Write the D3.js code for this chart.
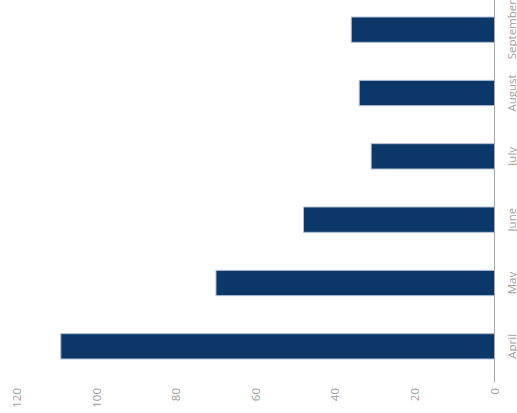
<!DOCTYPE html>
<html><head><meta charset="utf-8">
<script src="https://cdn.jsdelivr.net/npm/d3@7"></script>
<style>body{margin:0;background:#fff;}svg{display:block;}</style>
</head><body>
<svg id="c" width="517" height="413"></svg>
<script>
const months = ["September","August","July","June","May","April"];
const values = [36, 34, 31, 48, 70, 109];
const ticks = [0, 20, 40, 60, 80, 100, 120];

const svg = d3.select("#c");
const x = d3.scaleLinear().domain([0,120]).range([494.5, 17]);
const y = d3.scaleBand().domain(months).range([-2, 378]).paddingInner(0.6).paddingOuter(0.3);

svg.selectAll("rect.bar").data(months).join("rect")
  .attr("class","bar")
  .attr("x", (d,i)=>x(values[i]))
  .attr("y", d=>y(d))
  .attr("width", (d,i)=>x(0)-x(values[i]))
  .attr("height", y.bandwidth())
  .attr("fill", "#0b3868")
  .attr("stroke", "#b4c2d6")
  .attr("stroke-width", 1);

svg.append("line").attr("x1",494.5).attr("x2",494.5).attr("y1",0).attr("y2",382)
  .attr("stroke","#a6a6a6").attr("stroke-width",1);

const font = "'Open Sans', sans-serif";
svg.selectAll("text.tick").data(ticks).join("text")
  .attr("class","tick")
  .attr("transform", d=>`translate(${x(d)+4},388) rotate(-90)`)
  .attr("text-anchor","end")
  .attr("font-family", font).attr("font-size", 11.5).attr("fill","#a0a0a0")
  .text(d=>d);

svg.selectAll("text.cat").data(months).join("text")
  .attr("class","cat")
  .attr("transform", d=>`translate(${516},${y(d)+y.bandwidth()/2}) rotate(-90)`)
  .attr("text-anchor","middle")
  .attr("font-family", font).attr("font-size", 11.5).attr("fill","#a0a0a0")
  .text(d=>d);
</script>
</body></html>
